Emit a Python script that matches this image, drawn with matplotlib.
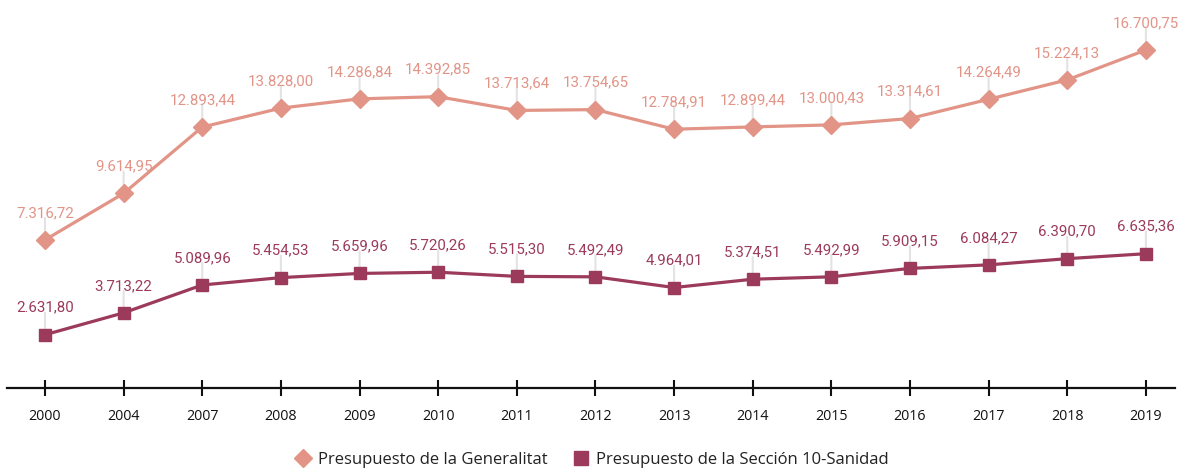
import matplotlib.pyplot as plt

years = ['2000', '2004', '2007', '2008', '2009', '2010', '2011', '2012',
         '2013', '2014', '2015', '2016', '2017', '2018', '2019']
generalitat = [7316.72, 9614.95, 12893.44, 13828.00, 14286.84, 14392.85, 13713.64,
               13754.65, 12784.91, 12899.44, 13000.43, 13314.61, 14264.49, 15224.13, 16700.75]
sanidad = [2631.80, 3713.22, 5089.96, 5454.53, 5659.96, 5720.26, 5515.30,
           5492.49, 4964.01, 5374.51, 5492.99, 5909.15, 6084.27, 6390.70, 6635.36]

col_gen = '#e29487'
col_san = '#9c3a5b'
px = 0.72  # points per pixel at dpi 100


def fmt(v):
    # spanish number format: 12.345,67
    s = f'{v:,.2f}'
    return s.replace(',', 'X').replace('.', ',').replace('X', '.')


fig = plt.figure(figsize=(11.82, 4.68), dpi=100)
ax = fig.add_axes([7 / 1182, 1 - 388 / 468, 1168 / 1182, 388 / 468])

x = list(range(len(years)))
ax.plot(x, generalitat, color=col_gen, lw=2.3, marker='D', ms=9.5, zorder=3,
        label='Presupuesto de la Generalitat')
ax.plot(x, sanidad, color=col_san, lw=2.3, marker='s', ms=9, zorder=3,
        label='Presupuesto de la Sección 10-Sanidad')

for serie, col in [(generalitat, col_gen), (sanidad, col_san)]:
    for i, v in zip(x, serie):
        # leader line
        ax.annotate('', xy=(i, v), xytext=(0, 22 * px), textcoords='offset points',
                    arrowprops=dict(arrowstyle='-', color='#e3e3e3', lw=1.5,
                                    shrinkA=0, shrinkB=6 * px), zorder=1)
        ax.annotate(fmt(v), xy=(i, v), xytext=(0, 23 * px), textcoords='offset points',
                    ha='center', va='baseline', color=col, fontsize=10.8,
                    family='Roboto')

ax.set_xlim(-0.483, 14.37)
ax.set_ylim(0, 19170)
ax.set_xticks(x)
ax.set_xticklabels(years, family='Open Sans', fontsize=10.3, color='#111111',
                   fontweight='medium')
ax.set_yticks([])
for s in ['top', 'right', 'left']:
    ax.spines[s].set_visible(False)
ax.spines['bottom'].set_linewidth(1.6)
ax.spines['bottom'].set_color('#111111')
ax.tick_params(axis='x', direction='inout', length=12, width=1.5,
               color='#111111', pad=9)
ax.patch.set_alpha(0)

h1 = plt.Line2D([], [], color=col_gen, marker='D', ls='none', ms=9.5)
h2 = plt.Line2D([], [], color=col_san, marker='s', ms=9.5, ls='none')
fig.legend([h1, h2], ['Presupuesto de la Generalitat', 'Presupuesto de la Sección 10-Sanidad'],
           loc='center', bbox_to_anchor=(0.5, 8 / 468), ncol=2, frameon=False,
           prop={'family': 'Open Sans', 'size': 12}, handletextpad=0.3, columnspacing=1.4,
           handlelength=1.2, labelcolor='#222222')

fig.savefig('out.png', dpi=100)
